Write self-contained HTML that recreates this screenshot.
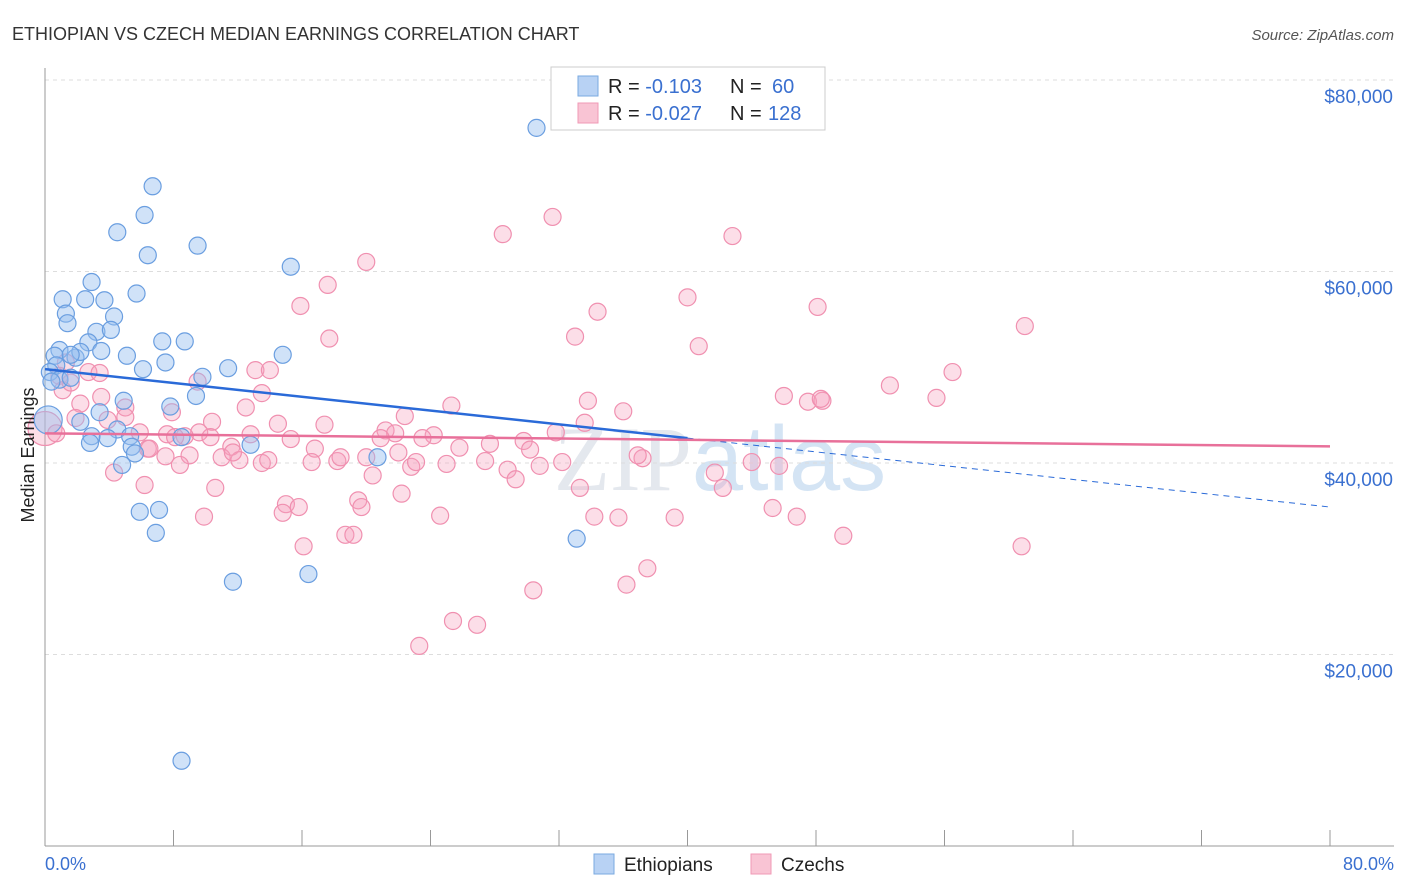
<!DOCTYPE html>
<html><head><meta charset="utf-8"><style>
body{margin:0;background:#fff;font-family:"Liberation Sans",sans-serif;}
svg{display:block}
</style></head><body>
<svg id="chart" width="1406" height="892" xmlns="http://www.w3.org/2000/svg">
<text x="12" y="40" font-size="18" fill="#333">ETHIOPIAN VS CZECH MEDIAN EARNINGS CORRELATION CHART</text>
<text x="1394" y="40" font-size="15" fill="#555" text-anchor="end" font-style="italic">Source: ZipAtlas.com</text>
<text x="720" y="490" font-size="92" fill="#e4e8ee" text-anchor="middle" font-family="Liberation Serif,serif">ZIP<tspan fill="#d4e4f4" font-family="Liberation Sans,sans-serif">atlas</tspan></text>
<g id="grid"></g><g id="axes"></g><g id="pts"></g><g id="trend"></g>
<text x="34" y="455" font-size="18" fill="#222" text-anchor="middle" transform="rotate(-90 34 455)">Median Earnings</text>
<text x="45" y="870" font-size="18" fill="#3a70d0">0.0%</text>
<text x="1394" y="870" font-size="18" fill="#3a70d0" text-anchor="end">80.0%</text>
<g>
<rect x="551" y="67" width="274" height="63" fill="#fff" stroke="#ccc"/>
<rect x="578" y="76" width="20" height="20" fill="#b8d2f4" stroke="#7aaae0"/>
<rect x="578" y="103" width="20" height="20" fill="#f9c4d4" stroke="#f09ab6"/>
<text x="608" y="93" font-size="20" fill="#222">R = <tspan fill="#3a70d0">-0.103</tspan><tspan x="730">N = </tspan><tspan fill="#3a70d0" x="772">60</tspan></text>
<text x="608" y="120" font-size="20" fill="#222">R = <tspan fill="#3a70d0">-0.027</tspan><tspan x="730">N = </tspan><tspan fill="#3a70d0" x="768">128</tspan></text>
</g>
<g>
<rect x="594" y="854" width="20" height="20" fill="#b8d2f4" stroke="#7aaae0"/>
<text x="624" y="871" font-size="19" fill="#222">Ethiopians</text>
<rect x="751" y="854" width="20" height="20" fill="#f9c4d4" stroke="#f09ab6"/>
<text x="781" y="871" font-size="19" fill="#222">Czechs</text>
</g>
</svg>
<script>
const yTicks=[20000,40000,60000,80000];
const yTickLabels=["$20,000","$40,000","$60,000","$80,000"];
const xTicks=[0,8,16,24,32,40,48,56,64,72,80];
const blueX=[30.6,6.7,6.2,4.5,9.5,6.4,15.3,2.9,1.1,2.5,3.7,5.7,1.3,1.4,4.3,3.2,4.1,7.3,8.7,2.7,3.5,0.9,1.9,2.2,0.6,5.1,7.5,6.1,14.8,11.4,9.8,0.7,0.3,0.9,1.6,0.4,9.4,4.9,7.8,3.4,2.2,4.5,2.9,5.3,3.9,2.8,5.4,8.5,12.8,20.7,4.8,5.9,7.1,6.9,33.1,11.7,16.4,8.5,1.6,5.6];
const blueY=[75000,68900,65900,64100,62700,61700,60500,58900,57100,57100,57000,57700,55600,54600,55300,53700,53900,52700,52700,52600,51700,51800,51000,51600,51200,51200,50500,49800,51300,49900,49000,50200,49500,48700,48900,48500,47000,46500,45900,45300,44300,43500,42800,42800,42600,42100,41700,42700,41900,40600,39800,34900,35100,32700,32100,27600,28400,8900,51300,41000];
const pinkX=[31.6,28.5,42.8,20.0,17.6,15.9,40.0,34.4,48.1,61.0,17.7,33.0,40.7,56.5,52.6,46.0,47.5,48.4,48.3,55.5,33.8,25.3,22.4,36.0,31.8,33.6,1.3,2.7,3.4,0.9,1.1,2.2,3.5,5.0,7.9,9.5,13.1,14.0,13.5,12.5,10.4,14.5,17.4,21.2,21.8,24.2,23.5,25.8,27.7,29.8,30.2,15.3,12.8,11.6,9.6,8.7,7.6,6.4,5.0,3.9,6.5,7.5,9.0,8.4,11.0,12.1,13.5,11.7,13.9,16.8,18.2,20.4,22.8,23.1,25.0,27.4,28.8,29.3,30.8,32.2,20.0,18.4,16.6,22.0,37.2,4.3,6.2,10.6,22.2,19.5,19.7,15.0,14.8,15.8,24.6,34.2,35.7,39.2,41.7,42.2,44.0,45.7,45.3,46.8,49.7,60.8,33.3,9.9,16.1,18.7,19.2,37.5,36.2,30.4,25.4,26.9,23.3,0.7,1.9,1.6,5.9,8.1,10.3,20.9,36.9];
const pinkY=[65700,63900,63700,61000,58600,56400,57300,55800,56300,54300,53000,53200,52200,49500,48100,47000,46400,46500,46700,46800,46500,46000,44900,45400,43200,44200,50500,49500,49400,49100,47600,46200,46900,45800,45300,48500,49700,49700,47300,45800,44300,44100,44000,43400,43100,42900,42600,41600,42000,42300,41400,42500,43000,41700,43200,42800,43000,41500,44800,44500,41500,40700,40800,39800,40600,40300,40000,41100,40300,41500,40200,38700,39600,40100,39900,40200,39300,38300,39700,40100,40600,40600,40100,41100,40500,39000,37700,37400,36800,36100,35400,35700,34800,35400,34500,34400,34300,34300,39000,37400,40100,39700,35300,34400,32400,31300,37400,34400,31300,32500,32500,29000,27300,26700,23500,23100,20900,43100,44700,48400,43200,42700,42700,42600,40800];
const bigBlue=[0.2,44500];
const bigPink=[0,43600];
const blueTrend=[49800,-0.18]; // intercept ($), slope ($ per % * 1000)
const pinkTrend=[43100,-0.017];
const X=v=>45+v/80*1285;
const Y=v=>80+(80000-v)/20000*191.5;
const NS="http://www.w3.org/2000/svg";
function mk(parent,tag,attrs){const e=document.createElementNS(NS,tag);for(const k in attrs)e.setAttribute(k,attrs[k]);document.getElementById(parent).appendChild(e);return e;}
yTicks.forEach((t,i)=>{
 const l=mk('grid','line',{x1:45,x2:1394,y1:Y(t),y2:Y(t),stroke:'#ddd','stroke-dasharray':'4,4'});
 
 
 const tx=mk('grid','text',{x:1393,y:Y(t)+23,'font-size':19,fill:'#3a70d0','text-anchor':'end'});
 tx.textContent=yTickLabels[i];
 
 
});
const g0=mk('grid','line',{x1:45,x2:1394,y1:Y(80000),y2:Y(80000),stroke:'#ddd','stroke-dasharray':'4,4'});
const ax=mk('axes','line',{x1:45,x2:45,y1:68,y2:846,stroke:'#999'});


const bx=mk('axes','line',{x1:45,x2:1394,y1:846,y2:846,stroke:'#999'});


xTicks.forEach(t=>{
 const l=mk('axes','line',{x1:X(t),x2:X(t),y1:830,y2:846,stroke:'#999'});
 
 
});
function pt(x,y,r,blue){
 const c=mk('pts','circle',{cx:X(x),cy:Y(y),r:r,fill:blue?'rgba(150,190,240,0.45)':'rgba(245,160,190,0.35)',stroke:blue?'#6a9ee0':'#f090b0','stroke-width':1.2});
 
 
}
pt(bigPink[0],bigPink[1],17,false);
pinkX.forEach((x,i)=>pt(x,pinkY[i],8.5,false));
pt(bigBlue[0],bigBlue[1],14,true);
blueX.forEach((x,i)=>pt(x,blueY[i],8.5,true));
const bf=x=>blueTrend[0]+blueTrend[1]*1000*x;
const pf=x=>pinkTrend[0]+pinkTrend[1]*1000*x;
const b1=mk('trend','line',{x1:X(0),y1:Y(bf(0)),x2:X(40),y2:Y(bf(40)),stroke:'#2a6ad8','stroke-width':2.5});


const b2=mk('trend','line',{x1:X(40),y1:Y(bf(40)),x2:X(80),y2:Y(bf(80)),stroke:'#2a6ad8','stroke-width':1,'stroke-dasharray':'6,5'});


const p1=mk('trend','line',{x1:X(0),y1:Y(pf(0)),x2:X(80),y2:Y(pf(80)),stroke:'#e8709a','stroke-width':2.5});


</script>
</body></html>
